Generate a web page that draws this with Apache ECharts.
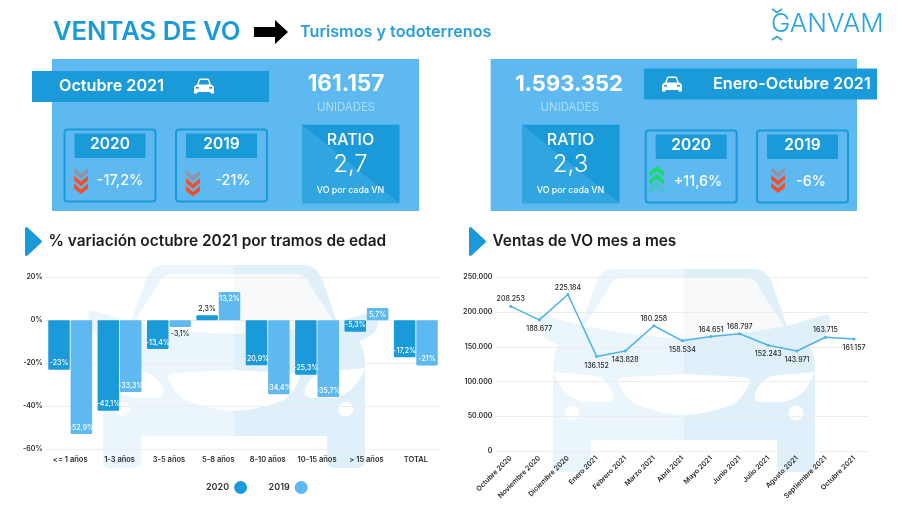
<!DOCTYPE html>
<html>
<head>
<meta charset="utf-8">
<title>Ventas de VO</title>
<script src="https://cdn.jsdelivr.net/npm/echarts@6/dist/echarts.min.js"></script>
<style>
    html,body{margin:0;padding:0;background:#fff;}
    #chart{width:900px;height:506px;}
</style>
</head>
<body>
<div id="chart"></div>
<script>
// datos
let tramos = ['<= 1 años','1-3 años','3-5 años','5-8 años','8-10 años','10-15 años','> 15 años','TOTAL'];
let var2020 = [-23,-42.1,-13.4,2.3,-20.9,-25.3,-5.3,-17.2];
let var2019 = [-52.9,-33.3,-3.1,13.2,-34.4,-35.7,5.7,-21];
let meses = ['Octubre 2020','Noviembre 2020','Diciembre 2020','Enero 2021','Febrero 2021','Marzo 2021','Abril 2021','Mayo 2021','Junio 2021','Julio 2021','Agosto 2021','Septiembre 2021','Octubre 2021'];
let ventas = [208253,188677,225184,136152,143828,180258,158534,164651,168797,152243,143971,163715,161157];

const DARK = '#1A9AD9';
const LIGHT = '#5DB9EF';
const FONT = 'Inter';
const INK = '#2b2b2b';

// formas que no existen en graphic
echarts.graphic.registerShape('carHalf', echarts.graphic.extendPath(
    'M0 0 L-70 0 Q-82 0 -88 14 L-103 57 L-140 46 Q-146 44 -146 50 L-144 60 Q-142 70 -125 76 Q-131 85 -131 99 L-131 196 Q-131 203 -124 203 L-100 203 Q-93 203 -93 196 L-93 171 L0 171 Z', {}));
echarts.graphic.registerShape('carGlass', echarts.graphic.extendPath(
    'M0 9 L-62 9 Q-72 9 -76 20 L-100 57 Q-50 68 0 69 Z', {}));
echarts.graphic.registerShape('carLamp', echarts.graphic.extendPath(
    'M-131 103 Q-110 105 -87 107 Q-76 112 -71 124 Q-69 132 -76 133 L-100 133 Q-112 130 -120 122 Q-128 112 -131 103 Z', {}));
echarts.graphic.registerShape('carGrille', echarts.graphic.extendPath(
    'M0 105 L-60 108 Q-66 109 -66 113 Q-62 125 -50 135 Q-25 145 0 146 Z', {}));
echarts.graphic.registerShape('carIcon', echarts.graphic.extendPath(
    'M3 6 L5 1 Q5.4 0 6.5 0 L13.5 0 Q14.6 0 15 1 L17 6 Q20 7 20 9 L20 15 L16.5 15 L16.5 13.5 L3.5 13.5 L3.5 15 L0 15 L0 9 Q0 7 3 6 Z', {}));

function txt(text,x,y,size,weight,fill,align){
    return {type:'text',z:5,style:{text:text,x:x,y:y,fontFamily:FONT,fontSize:size,fontWeight:weight,fill:fill,
        align:align||'center',verticalAlign:'middle'}};
}
function box(x,y,w,h,fill){
    return {type:'rect',z:5,shape:{x:x,y:y,width:w,height:h},style:{fill:fill}};
}
function frame(x,y,w,h){
    return {type:'rect',z:5,shape:{x:x+1,y:y+1,width:w-2,height:h-2,r:3},style:{fill:'none',stroke:DARK,lineWidth:2}};
}
// tres flechas: la de atras casi transparente
function chevrons(x,y,w,h,up,color){
    let out = [];
    let step = h/3.6;
    let tip = h/5;
    for(let i=0;i<3;i++){
        let n = up ? 2-i : i;
        let top = y+n*step;
        let thick = step*0.62;
        let points = up
            ? [[x,top+tip],[x+w/2,top],[x+w,top+tip],[x+w,top+tip+thick],[x+w/2,top+thick],[x,top+tip+thick]]
            : [[x,top],[x+w/2,top+tip],[x+w,top],[x+w,top+thick],[x+w/2,top+tip+thick],[x,top+thick]];
        out.push({type:'polygon',z:5,shape:{points:points},style:{fill:color,opacity:i==0?0.35:1}});
    }
    return out;
}
function carIcon(x,y){
    return [
        {type:'carIcon',z:5,x:x,y:y,style:{fill:'#fff'}},
        {type:'polygon',z:5,shape:{points:[[x+4.6,y+6],[x+6.2,y+1.6],[x+13.8,y+1.6],[x+15.4,y+6]]},style:{fill:DARK}},
        {type:'rect',z:5,shape:{x:x+2,y:y+8.5,width:3,height:1.6},style:{fill:DARK}},
        {type:'rect',z:5,shape:{x:x+15,y:y+8.5,width:3,height:1.6},style:{fill:DARK}}
    ];
}
function ratioBox(x,y,value){
    return [
        box(x,y,97.5,78.6,DARK),
        {type:'polygon',z:5,shape:{points:[[x,y],[x+97.5,y+78.6],[x,y+78.6]]},style:{fill:'#30A5E0'}},
        txt('RATIO',x+48.5,y+15.5,16,500,'#fff'),
        txt(value,x+48.5,y+40.5,24,300,'#fff'),
        txt('VO por cada VN',x+48.5,y+65.5,8.8,500,'#fff')
    ];
}
function yearBox(x,y,label,value,valueX,chev){
    return [
        frame(x,y,93,74),
        box(x+11,y+5,71,24.4,DARK),
        txt(label,x+46.5,y+15.5,15.5,600,'#fff'),
        txt(value,valueX,y+52.5,14.3,500,'#fff')
    ].concat(chev);
}
function car(x,y){
    let half = (fill)=>[
        {type:'carHalf',z:-1,style:{fill:fill}},
        {type:'carGlass',z:-1,style:{fill:fill=='#EAF5FC'?'#fff':'#F8F9FA'}},
        {type:'carLamp',z:-1,style:{fill:'#fff'}},
        {type:'carGrille',z:-1,style:{fill:'#fff'}},
        {type:'circle',z:-1,shape:{cx:-112,cy:144,r:7.5},style:{fill:'#fff'}}
    ];
    return [
        {type:'group',x:x,y:y,children:half('#EAF5FC')},
        {type:'group',x:x,y:y,scaleX:-1,children:half('#DFF0FA')}
    ];
}
function sectionHead(x,label){
    return [
        {type:'polygon',z:5,shape:{points:[[x+1.5,228.5],[x+15.5,241.5],[x+1.5,254.5]]},
            style:{fill:DARK,stroke:DARK,lineWidth:3,lineJoin:'round'}},
        txt(label,x+23.5,241.5,15.4,600,'#1c1c1c','left')
    ];
}

let elements = [].concat(
    car(234,265),
    car(684,269),
    // cabecera
    [
        txt('VENTAS DE VO',53,32,25.6,600,DARK,'left'),
        {type:'polygon',z:5,shape:{points:[[254,27],[275,27],[275,20],[288,32],[275,44],[275,37],[254,37]]},style:{fill:'#000'}},
        txt('Turismos y todoterrenos',300,32,16.2,600,'#2A9FDC','left'),
        txt('GANVAM',771,24,26,300,'#2BA3E0','left'),
        {type:'polyline',z:5,shape:{points:[[772,9],[777,12.5],[782,9]]},style:{stroke:'#2BA3E0',lineWidth:1.6,fill:'none'}},
        {type:'polyline',z:5,shape:{points:[[772,40],[777,36.5],[782,40]]},style:{stroke:'#2BA3E0',lineWidth:1.6,fill:'none'}}
    ],
    // panel octubre
    [
        box(52,59,367,152,LIGHT),
        box(32,71,237,31,DARK),
        txt('Octubre 2021',59,86,16.2,600,'#fff','left'),
        txt('161.157',346,84,22.5,700,'#fff'),
        txt('UNIDADES',346,108,11.4,400,'#A9DDF8')
    ],
    carIcon(194,78.5),
    yearBox(63.5,128.5,'2020','-17,2%',120,chevrons(74,168,14,28,false,'#F0512A')),
    yearBox(175,128.5,'2019','-21%',233,chevrons(186,170.5,14,28,false,'#F0512A')),
    ratioBox(302,124.7,'2,7'),
    // panel enero-octubre
    [
        box(490.7,59,366.3,152,LIGHT),
        box(644,68.5,233,31,DARK),
        txt('Enero-Octubre 2021',713,84,16.2,600,'#fff','left'),
        txt('1.593.352',569,84,22,700,'#fff'),
        txt('UNIDADES',569.7,108,11.4,400,'#A9DDF8')
    ],
    carIcon(662,76.5),
    yearBox(644.7,129.5,'2020','+11,6%',698,chevrons(649.5,166,14.5,29,true,'#1BD96E')),
    yearBox(756,129.5,'2019','-6%',811,chevrons(771,167,14,28,false,'#F0512A')),
    ratioBox(522,124.7,'2,3'),
    sectionHead(25,'% variación octubre 2021 por tramos de edad'),
    sectionHead(469,'Ventas de VO mes a mes')
);

// etiquetas oscuras fuera de la barra
let fuera = {'2,3':'top','-3,1':'bottom'};
function barLabels(values,color){
    return values.map((v)=>{
        let s = String(v).replace('.',',');
        let pos = fuera[s] || (v<0?'insideBottom':'insideTop');
        return {
            value:v,
            itemStyle:{color:color,borderRadius:1},
            label:{show:true,position:pos,distance:3,formatter:s+'%',fontFamily:FONT,fontSize:7,fontWeight:500,color:fuera[s]?INK:'#fff'}
        };
    });
}
let abajo = [1,3,4,6,9,10,12];
let ventasData = ventas.map((v,i)=>({
    value:v,
    label:abajo.indexOf(i)>=0?{position:'bottom',distance:4}:{position:'top',distance:2}
}));
function miles(v){
    return String(v).replace(/\B(?=(\d{3})+$)/g,'.');
}

let axisText = {fontFamily:FONT,fontSize:7,fontWeight:600,color:INK};
let gridLine = {show:true,lineStyle:{color:'#ECECEC',width:1}};

let option = {
    animation:false,
    backgroundColor:'#fff',
    textStyle:{fontFamily:FONT},
    graphic:{elements:elements},
    legend:{
        left:206,
        top:481,
        padding:0,
        icon:'circle',
        align:'right',
        itemWidth:13,
        itemHeight:13,
        itemGap:21.5,
        selectedMode:false,
        textStyle:{fontFamily:FONT,fontSize:9,fontWeight:600,color:'#333'},
        data:['2020','2019']
    },
    grid:[
        {left:45.5,top:277.3,width:395,height:172},
        {left:496.4,top:277.3,width:372,height:173.7}
    ],
    xAxis:[
        {
            type:'category',gridIndex:0,data:tramos,
            axisLine:{show:false,onZero:false},axisTick:{show:false},
            axisLabel:Object.assign({interval:0,margin:6},axisText,{fontSize:7.5})
        },
        {
            type:'category',gridIndex:1,data:meses,
            axisLine:{show:false},axisTick:{show:false},
            axisLabel:Object.assign({interval:0,rotate:45,margin:6},axisText)
        }
    ],
    yAxis:[
        {
            type:'value',gridIndex:0,min:-60,max:20,interval:20,
            axisLine:{show:false},axisTick:{show:false},splitLine:gridLine,
            axisLabel:Object.assign({margin:3,formatter:'{value}%'},axisText)
        },
        {
            type:'value',gridIndex:1,min:0,max:250000,interval:50000,
            axisLine:{show:false},axisTick:{show:false},splitLine:gridLine,
            axisLabel:Object.assign({margin:4,formatter:miles},axisText)
        }
    ],
    series:[
        {name:'2020',type:'bar',xAxisIndex:0,yAxisIndex:0,barWidth:21.5,barGap:'4%',itemStyle:{color:DARK},data:barLabels(var2020,DARK)},
        {name:'2019',type:'bar',xAxisIndex:0,yAxisIndex:0,barWidth:21.5,barGap:'4%',itemStyle:{color:LIGHT},data:barLabels(var2019,LIGHT)},
        {
            name:'Ventas',type:'line',xAxisIndex:1,yAxisIndex:1,
            symbol:'circle',symbolSize:3,
            lineStyle:{color:'#4DB3E8',width:1.5},itemStyle:{color:'#4DB3E8'},
            label:{show:true,fontFamily:FONT,fontSize:7,fontWeight:500,color:INK,formatter:(p)=>miles(p.value)},
            data:ventasData
        }
    ]
};

let myChart = echarts.init(document.getElementById('chart'));
myChart.setOption(option);
</script>
</body>
</html>
